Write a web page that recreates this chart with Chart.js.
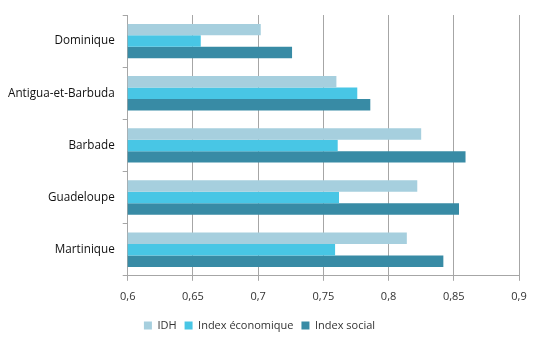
<!DOCTYPE html>
<html>
<head>
<meta charset="utf-8">
<script src="https://cdn.jsdelivr.net/npm/chart.js@4/dist/chart.umd.min.js"></script>
<style>
html,body{margin:0;padding:0;background:#fff;}
#wrap{width:542px;height:345px;}
</style>
</head>
<body>
<div id="wrap"><canvas id="c" width="542" height="345"></canvas></div>
<script>
const categories = ["Dominique", "Antigua-et-Barbuda", "Barbade", "Guadeloupe", "Martinique"];
const seriesNames = ["IDH", "Index économique", "Index social"];
const idh = [0.702, 0.760, 0.825, 0.822, 0.814];
const indexEconomique = [0.656, 0.776, 0.761, 0.762, 0.759];
const indexSocial = [0.726, 0.786, 0.859, 0.854, 0.842];
const xTicks = [0.6, 0.65, 0.7, 0.75, 0.8, 0.85, 0.9];

const colors = ["#a6cfde", "#48c6e5", "#388ba5"];
const fam = "'Open Sans', 'Liberation Sans', sans-serif";

new Chart(document.getElementById('c'), {
  type: 'bar',
  data: {
    labels: categories,
    datasets: [
      {label: seriesNames[0], data: idh, backgroundColor: colors[0]},
      {label: seriesNames[1], data: indexEconomique, backgroundColor: colors[1]},
      {label: seriesNames[2], data: indexSocial, backgroundColor: colors[2]}
    ]
  },
  options: {
    indexAxis: 'y',
    responsive: false,
    animation: false,
    devicePixelRatio: 1,
    layout: {padding: {top: 14, right: 23, left: 0, bottom: 4}},
    datasets: {bar: {categoryPercentage: 0.66, barPercentage: 1.0}},
    scales: {
      x: {
        min: xTicks[0], max: xTicks[xTicks.length - 1],
        afterBuildTicks: (ax) => { ax.ticks = xTicks.map(v => ({value: v})); },
        ticks: {
          color: '#333', font: {family: fam, size: 11}, padding: 9,
          callback: (v) => String(Math.round(v * 100) / 100).replace('.', ',')
        },
        grid: {color: '#a6a6a6', tickLength: 5, lineWidth: 1},
        border: {color: '#a6a6a6'}
      },
      y: {
        ticks: {color: '#111', font: {family: fam, size: 11.7}, padding: 8},
        grid: {offset: true, drawOnChartArea: false, color: '#a6a6a6', tickLength: 5},
        border: {color: '#a6a6a6'}
      }
    },
    plugins: {
      legend: {
        position: 'bottom',
        labels: {boxWidth: 8, boxHeight: 8, font: {family: fam, size: 11}, color: '#333', padding: 8}
      },
      tooltip: {enabled: false}
    }
  }
});
</script>
</body>
</html>
